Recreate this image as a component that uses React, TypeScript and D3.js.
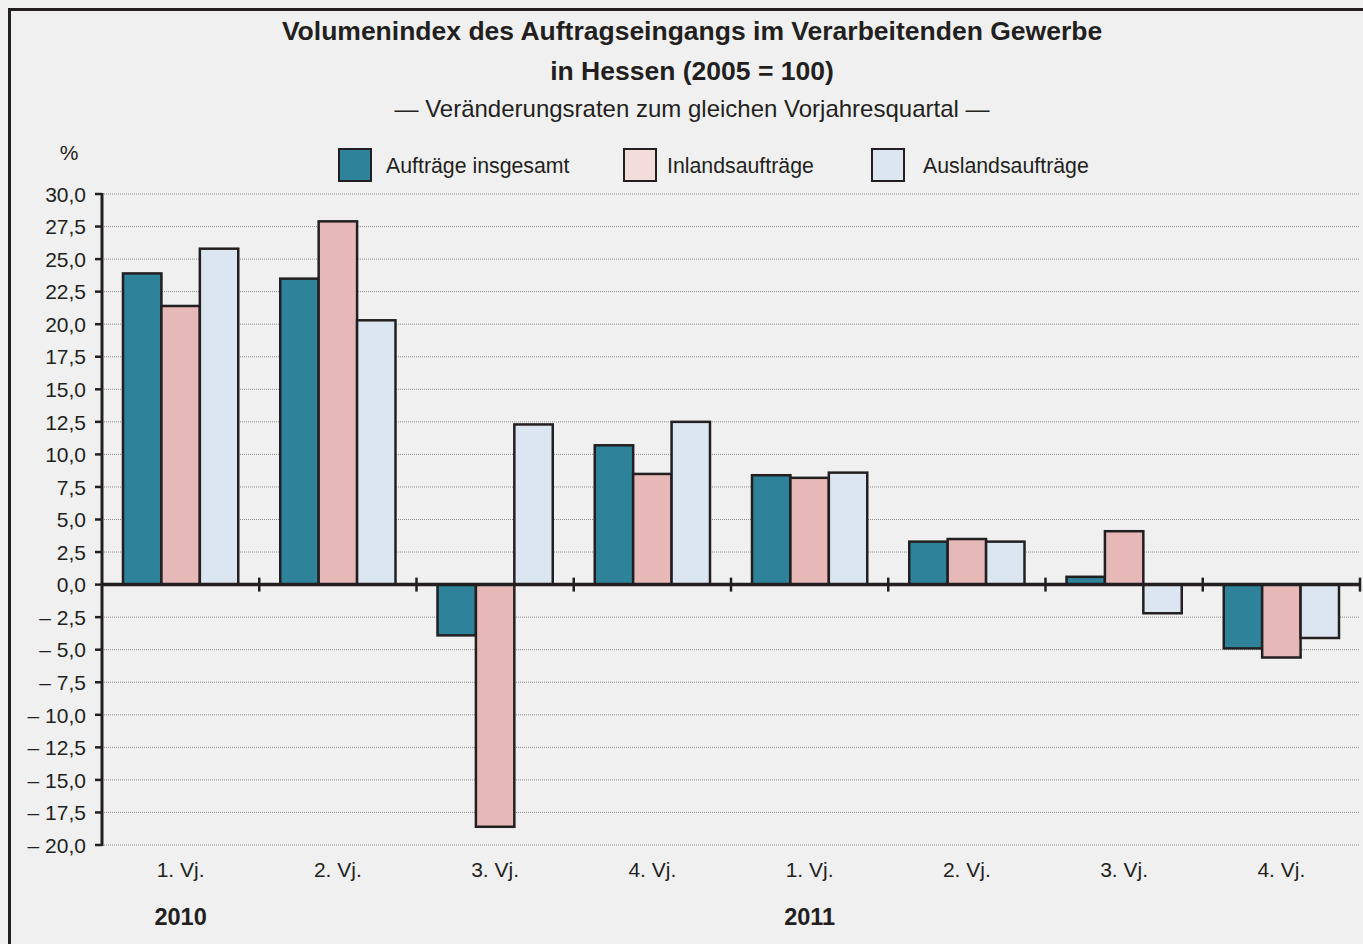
import * as d3 from "d3";

const quarters = ["1. Vj.", "2. Vj.", "3. Vj.", "4. Vj.", "1. Vj.", "2. Vj.", "3. Vj.", "4. Vj."];
const years = [{ label: "2010", at: 0 }, { label: "2011", at: 4 }];
const seriesNames = ["Aufträge insgesamt", "Inlandsaufträge", "Auslandsaufträge"];
const insgesamt = [23.9, 23.5, -3.9, 10.7, 8.4, 3.3, 0.6, -4.9];
const inland = [21.4, 27.9, -18.6, 8.5, 8.2, 3.5, 4.1, -5.6];
const ausland = [25.8, 20.3, 12.3, 12.5, 8.6, 3.3, -2.2, -4.1];
const yTicks = d3.range(-20, 30.01, 2.5);

const barColors = ["#2e8299", "#e6b8b8", "#dce6f0"];
const legendColors = ["#2e8299", "#f2dcdc", "#dce6f0"];
const ink = "#231f20";
const font = "'Liberation Sans', Arial, sans-serif";

const fmt = (v: number) => {
    const s = Math.abs(v).toFixed(1).replace(".", ",");
    return v < 0 ? "\u2013 " + s : s;
};

const App: React.FC = () => {
    const width = 1363;
    const height = 944;
    const left = 102;
    const right = 1360;
    const top = 194;
    const bottom = 845;

    const values = [insgesamt, inland, ausland];
    const y = d3.scaleLinear([-20, 30], [bottom, top]);
    const x0 = d3.scaleBand<number>(d3.range(quarters.length), [left, right]);
    const x1 = d3.scaleBand<number>(d3.range(3), [21, x0.bandwidth() - 21]);
    const legendX = [339, 624, 872];
    const legendTextX = [386, 667, 923];

    return (
        <svg width={width} height={height} style={{ position: "absolute", left: 0, top: 0 }} fontFamily={font}>
            <rect x={0} y={0} width={width} height={height} fill="#f0f0f0" />
            <rect x={9.5} y={9.5} width={width + 20} height={height + 20} fill="none" stroke={ink} strokeWidth={3} />

            <g textAnchor="middle" fill={ink}>
                <text x={692} y={40} fontSize={26.5} fontWeight="bold">Volumenindex des Auftragseingangs im Verarbeitenden Gewerbe</text>
                <text x={692} y={80} fontSize={26.5} fontWeight="bold">in Hessen (2005 = 100)</text>
                <text x={692} y={117} fontSize={24}>— Veränderungsraten zum gleichen Vorjahresquartal —</text>
            </g>

            <text x={69} y={160} fontSize={21} textAnchor="middle" fill={ink}>%</text>

            {seriesNames.map((name, i) => (
                <g key={name}>
                    <rect x={legendX[i]} y={149} width={32} height={32} fill={legendColors[i]} stroke={ink} strokeWidth={2} />
                    <text x={legendTextX[i]} y={173} fontSize={21.3} fill={ink}>{name}</text>
                </g>
            ))}

            <g>
                {yTicks.map(t => (
                    <g key={t}>
                        {t !== 0 && <line x1={left} x2={right} y1={y(t)} y2={y(t)} stroke="#8c8c8c" strokeWidth={1} strokeDasharray="1 1" />}
                        <line x1={95} x2={left} y1={y(t)} y2={y(t)} stroke={ink} strokeWidth={2.5} />
                        <text x={86} y={y(t) + 7.7} fontSize={21} textAnchor="end" fill={ink}>{fmt(t)}</text>
                    </g>
                ))}
            </g>

            {values.map((vals, s) => (
                <g key={s} fill={barColors[s]} stroke={ink} strokeWidth={2.5}>
                    {vals.map((v, i) => (
                        <rect key={i} x={(x0(i) ?? 0) + (x1(s) ?? 0)} y={y(Math.max(0, v))}
                            width={x1.bandwidth()} height={Math.abs(y(v) - y(0))} />
                    ))}
                </g>
            ))}

            <line x1={left} x2={left} y1={top - 1} y2={bottom + 1} stroke={ink} strokeWidth={3} />
            <line x1={left} x2={right + 1} y1={y(0)} y2={y(0)} stroke={ink} strokeWidth={3.5} />
            {quarters.map((_, i) => (
                <line key={i} x1={(x0(i) ?? 0) + x0.bandwidth()} x2={(x0(i) ?? 0) + x0.bandwidth()}
                    y1={y(0) - 7} y2={y(0) + 7} stroke={ink} strokeWidth={2.5} />
            ))}

            <g textAnchor="middle" fill={ink}>
                {quarters.map((q, i) => (
                    <text key={i} x={(x0(i) ?? 0) + x0.bandwidth() / 2} y={877} fontSize={21}>{q}</text>
                ))}
                {years.map(yr => (
                    <text key={yr.label} x={(x0(yr.at) ?? 0) + x0.bandwidth() / 2} y={925} fontSize={23.5} fontWeight="bold">{yr.label}</text>
                ))}
            </g>
        </svg>
    );
};

export default App;
